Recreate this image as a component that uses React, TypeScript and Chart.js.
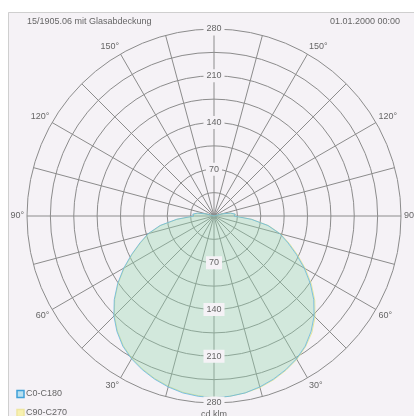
import React, { useEffect, useRef } from 'react';
import { Chart, registerables } from 'chart.js';

Chart.register(...registerables);

// ---- data ----
const gammaAngles = [0, 5, 10, 15, 20, 25, 30, 35, 40, 45, 50, 55, 60, 65, 70, 75, 80, 85, 90, 95, 100, 105, 110, 115, 120, 125, 130, 135, 140, 145, 150, 155, 160, 165, 170, 175, 180];
const c0Values = [272, 271, 269, 265, 260, 254, 247, 238, 226, 212, 195, 176, 156, 136, 118, 102, 82, 56, 30, 32, 25, 12, 0, 0, 0, 0, 0, 0, 0, 0, 0, 0, 0, 0, 0, 0, 0];
const c180Values = [272, 271, 269, 265, 260, 254, 247, 238, 226, 212, 195, 176, 156, 136, 118, 102, 82, 56, 30, 32, 25, 12, 0, 0, 0, 0, 0, 0, 0, 0, 0, 0, 0, 0, 0, 0, 0];
const c90Values = [272, 271, 269, 266, 261, 255, 248, 239, 228, 214, 197, 178, 158, 138, 120, 103, 83, 57, 31, 32, 25, 12, 0, 0, 0, 0, 0, 0, 0, 0, 0, 0, 0, 0, 0, 0, 0];
const c270Values = [271, 270, 268, 264, 259, 253, 246, 237, 225, 211, 194, 175, 155, 135, 117, 101, 81, 55, 29, 31, 24, 11, 0, 0, 0, 0, 0, 0, 0, 0, 0, 0, 0, 0, 0, 0, 0];
const seriesNames = ['C0-C180', 'C90-C270'];
const intensityTicks = [70, 140, 210, 280];
const angleTickLabels = [30, 60, 90, 120, 150];
const titleText = '15/1905.06 mit Glasabdeckung';
const dateText = '01.01.2000 00:00';
const unitText = 'cd klm';
const maxIntensity = 280;
const ringStep = 35;
const spokeStep = 15;

// ---- styles ----
const FONT = "'Liberation Sans', Arial, sans-serif";
const BG = '#f5f2f6';
const GRID = '#8c8c8c';
const TEXT = '#666666';
const BLUE_LINE = 'rgba(100,180,225,1)';
const BLUE_FILL = 'rgba(80,190,200,0.18)';
const YELLOW_LINE = 'rgba(225,228,140,1)';
const YELLOW_FILL = 'rgba(220,240,150,0.22)';

// build radar order: clockwise from top (gamma 180) down the right side to gamma 0, then up the left side
const n = gammaAngles.length;
const radarGammas: number[] = [];
for (let i = n - 1; i >= 0; i--) radarGammas.push(gammaAngles[i]);
for (let i = 1; i < n - 1; i++) radarGammas.push(gammaAngles[i]);
function buildSeries(right: number[], left: number[]) {
  const out: number[] = [];
  for (let i = n - 1; i >= 0; i--) out.push(right[i]);
  for (let i = 1; i < n - 1; i++) out.push(left[i]);
  return out;
}
const labels = radarGammas.map((g) => g + '°');

const decorPlugin = {
  id: 'decor',
  beforeDraw(chart: any) {
    const ctx = chart.ctx;
    ctx.save();
    ctx.fillStyle = '#ffffff';
    ctx.fillRect(0, 0, chart.width, chart.height);
    ctx.fillStyle = BG;
    ctx.fillRect(8, 12, chart.width - 8, chart.height - 12);
    ctx.strokeStyle = '#cfcfcf';
    ctx.lineWidth = 1;
    ctx.beginPath();
    ctx.moveTo(8.5, chart.height);
    ctx.lineTo(8.5, 12.5);
    ctx.lineTo(chart.width, 12.5);
    ctx.stroke();
    ctx.restore();
  },
  afterDraw(chart: any) {
    const ctx = chart.ctx;
    const scale = chart.scales.r;
    ctx.save();
    ctx.font = `9px ${FONT}`;
    ctx.fillStyle = TEXT;
    // header texts
    ctx.textBaseline = 'middle';
    ctx.textAlign = 'left';
    ctx.fillText(titleText, 27, 22);
    ctx.textAlign = 'right';
    ctx.fillText(dateText, 400, 22);

    // angle labels
    radarGammas.forEach((g, i) => {
      if (!angleTickLabels.includes(g)) return;
      const p = scale.getPointPosition(i, scale.drawingArea + 3);
      ctx.textAlign = p.x < scale.xCenter - 1 ? 'right' : p.x > scale.xCenter + 1 ? 'left' : 'center';
      ctx.textBaseline = p.y < scale.yCenter - 1 ? 'bottom' : p.y > scale.yCenter + 1 ? 'top' : 'middle';
      ctx.fillStyle = TEXT;
      ctx.fillText(g + '°', p.x, p.y);
    });

    // lower intensity tick labels
    ctx.textAlign = 'center';
    ctx.textBaseline = 'middle';
    intensityTicks.forEach((v) => {
      const d = scale.getDistanceFromCenterForValue(v);
      const y = scale.yCenter + d;
      const w = ctx.measureText(String(v)).width;
      ctx.fillStyle = BG;
      ctx.fillRect(scale.xCenter - w / 2 - 3, y - 4.5 - 2, w + 6, 13);
      ctx.fillStyle = TEXT;
      ctx.fillText(String(v), scale.xCenter, y);
    });
    const yUnit = scale.yCenter + scale.getDistanceFromCenterForValue(maxIntensity) + 7;
    ctx.textBaseline = 'top';
    ctx.fillText(unitText, scale.xCenter, yUnit);

    // legend
    const items = [
      { name: seriesNames[0], line: '#3fa0d8', fill: '#b9e0f0', y: 394 },
      { name: seriesNames[1], line: '#efe6a0', fill: '#f8f1b0', y: 413 },
    ];
    items.forEach((it) => {
      ctx.fillStyle = it.fill;
      ctx.fillRect(17, it.y - 3.5, 7, 7);
      ctx.strokeStyle = it.line;
      ctx.lineWidth = 1.5;
      ctx.strokeRect(17, it.y - 3.5, 7, 7);
      ctx.fillStyle = TEXT;
      ctx.textAlign = 'left';
      ctx.textBaseline = 'middle';
      ctx.fillText(it.name, 26, it.y);
    });
    ctx.restore();
  },
};

export default function App() {
  const ref = useRef<HTMLCanvasElement>(null);
  useEffect(() => {
    if (!ref.current) return;
    Chart.defaults.font.family = FONT;
    const chart = new Chart(ref.current, {
      type: 'radar',
      data: {
        labels,
        datasets: [
          {
            label: seriesNames[0],
            data: buildSeries(c0Values, c180Values),
            borderColor: BLUE_LINE,
            backgroundColor: BLUE_FILL,
            borderWidth: 0.8,
            fill: true,
            pointRadius: 0,
          },
          {
            label: seriesNames[1],
            data: buildSeries(c90Values, c270Values),
            borderColor: YELLOW_LINE,
            backgroundColor: YELLOW_FILL,
            borderWidth: 0.8,
            fill: true,
            pointRadius: 0,
          },
        ],
      },
      options: {
        responsive: false,
        animation: false,
        layout: { padding: { left: 20, top: 22, right: 6, bottom: 6 } },
        plugins: { legend: { display: false }, tooltip: { enabled: false }, title: { display: false } },
        scales: {
          r: {
            min: 0,
            max: maxIntensity,
            beginAtZero: true,
            ticks: {
              stepSize: ringStep,
              z: 1,
              color: TEXT,
              font: { size: 9, family: FONT },
              backdropColor: BG,
              backdropPadding: { x: 3, y: 2 },
              showLabelBackdrop: (c: any) => !!c.tick && intensityTicks.includes(c.tick.value),
              callback: (v: any) => (intensityTicks.includes(Number(v)) ? String(v) : ''),
            },
            grid: { circular: true, color: GRID, lineWidth: 1 },
            angleLines: {
              display: true,
              lineWidth: 1,
              color: (c: any) => (radarGammas[c.index] % spokeStep === 0 ? GRID : 'transparent'),
            },
            pointLabels: { display: false },
          },
        },
      } as any,
      plugins: [decorPlugin],
    });
    return () => chart.destroy();
  }, []);
  return (
    <canvas
      ref={ref}
      width={414}
      height={416}
      style={{ position: 'absolute', left: 0, top: 0, display: 'block' }}
    />
  );
}
